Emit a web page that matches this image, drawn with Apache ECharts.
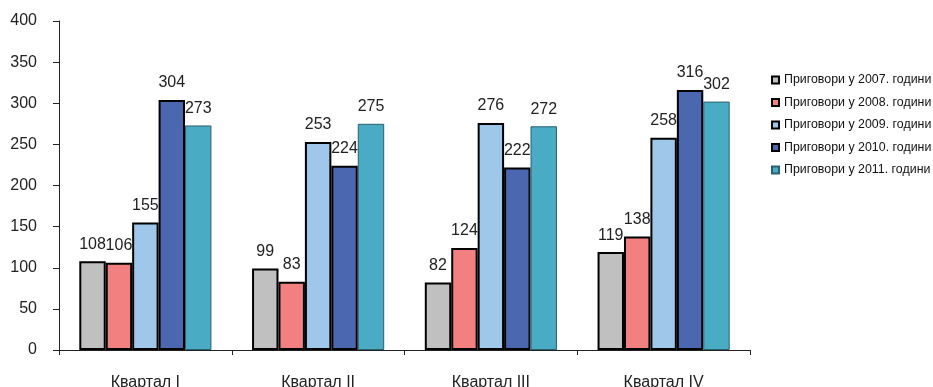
<!DOCTYPE html>
<html><head><meta charset="utf-8">
<script src="https://cdn.jsdelivr.net/npm/echarts@6/dist/echarts.min.js"></script>
<style>html,body{margin:0;padding:0;background:#fff}#c{width:933px;height:387px}</style>
</head><body><div id="c"></div>
<script>
const categories = ['Квартал I', 'Квартал II', 'Квартал III', 'Квартал IV'];
const seriesNames = ['Приговори у 2007. години', 'Приговори у 2008. години', 'Приговори у 2009. години', 'Приговори у 2010. години', 'Приговори у 2011. години'];
const y2007 = [108, 99, 82, 119];
const y2008 = [106, 83, 124, 138];
const y2009 = [155, 253, 276, 258];
const y2010 = [304, 224, 222, 316];
const y2011 = [273, 275, 272, 302];
const yTicks = [0, 50, 100, 150, 200, 250, 300, 350, 400];

const values = [y2007, y2008, y2009, y2010, y2011];
const colors = ['#C0C0C0', '#F28081', '#9FC7EA', '#4A67B0', '#4AABC5'];
const borders = ['#000', '#000', '#000', '#000', '#2a5f6e'];
const bw = [2, 2, 2, 2, 1];
const font = 'Liberation Sans, Arial, sans-serif';

const chart = echarts.init(document.getElementById('c'), null, {renderer: 'canvas'});
chart.setOption({
  animation: false,
  backgroundColor: '#fff',
  grid: {left: 59, right: 183, top: 21, bottom: 37, containLabel: false, outerBoundsMode: 'none'},
  legend: {
    orient: 'vertical', left: 771, top: 73, padding: 0,
    itemWidth: 7, itemHeight: 7, itemGap: 8.5,
    icon: 'rect',
    textStyle: {fontFamily: font, fontSize: 12.4, color: '#111', lineHeight: 14},
    data: seriesNames
  },
  xAxis: {
    type: 'category', data: categories,
    axisLine: {lineStyle: {color: '#222', width: 1}},
    axisTick: {show: true, length: 5, lineStyle: {color: '#222'}},
    axisLabel: {fontFamily: font, fontSize: 16, color: '#222', margin: 25}
  },
  yAxis: {
    type: 'value', min: yTicks[0], max: yTicks[yTicks.length - 1], interval: 50,
    axisLine: {show: true, lineStyle: {color: '#222', width: 1}},
    axisTick: {show: true, inside: false, length: 6, lineStyle: {color: '#222'}},
    splitLine: {show: false},
    axisLabel: {fontFamily: font, fontSize: 16, color: '#222', margin: 22}
  },
  series: seriesNames.map((n, i) => ({
    name: n, type: 'bar', data: values[i],
    barGap: '0%', barCategoryGap: '23.5%',
    itemStyle: {color: colors[i], borderColor: borders[i], borderWidth: bw[i]},
    label: {show: true, position: 'top', distance: 9, fontFamily: font, fontSize: 16, color: '#222'}
  }))
});
</script></body></html>
